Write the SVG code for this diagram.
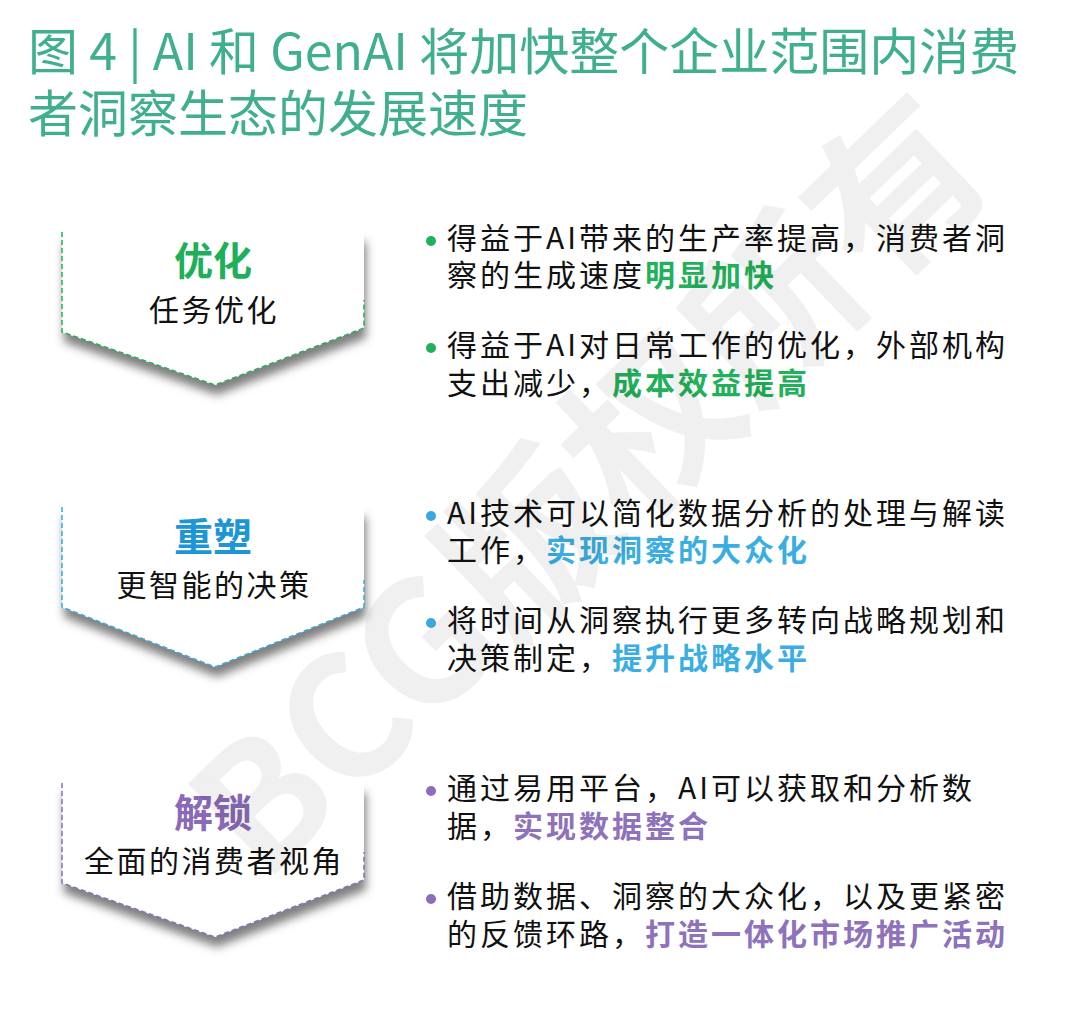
<svg xmlns="http://www.w3.org/2000/svg" width="1080" height="1019" viewBox="0 0 1080 1019">
<style>
  .title { font-family: "Noto Sans CJK SC", "Noto Sans", sans-serif; font-size: 50px; fill: #40AF8E; }
  .head { font-family: "Noto Sans CJK SC", sans-serif; font-size: 39px; font-weight: bold; text-anchor: middle; }
  .sub { font-family: "Noto Sans CJK SC", sans-serif; font-size: 30px; fill: #111; text-anchor: middle; letter-spacing: 2.5px; }
  .body { font-family: "Noto Sans CJK SC", sans-serif; font-size: 30px; fill: #111; letter-spacing: 3px; }
  .b { font-weight: bold; }
  .chev { fill: #fff; filter: url(#sh); }
  .edge { fill: none; stroke-width: 1.5; stroke-dasharray: 5 3; }
  .wm { font-family: "Noto Sans CJK SC", sans-serif; font-size: 170px; font-weight: bold; fill: #000; fill-opacity: 0.06; text-anchor: middle; }
</style>
<defs>
  <filter id="sh" x="-20%" y="-20%" width="140%" height="150%">
    <feDropShadow dx="2" dy="10" stdDeviation="5" flood-color="#000" flood-opacity="0.5"/>
  </filter>
</defs>
<rect width="1080" height="1019" fill="#fff"/>

<g id="title">
  <text class="title" x="28" y="70">图 4 | AI 和 GenAI 将加快整个企业范围内消费</text>
  <text class="title" x="28" y="132">者洞察生态的发展速度</text>
</g>

<g id="node-optimize">
  <polygon class="chev" points="62,232 364,232 364,328 215,385 62,332"/>
  <path class="edge" stroke="#22B05A" d="M62,232 V332 L215,385 L364,328 V300"/>
  <text class="head" x="213" y="275" fill="#1DAF5A">优化</text>
  <text class="sub" x="214" y="321">任务优化</text>
</g>

<g id="node-reshape">
  <polygon class="chev" points="62,507 364,507 364,607 215,667 62,607"/>
  <path class="edge" stroke="#3AA8E0" d="M62,507 V607 L215,667 L364,607 V580"/>
  <text class="head" x="213" y="551" fill="#1C96D6">重塑</text>
  <text class="sub" x="214" y="596">更智能的决策</text>
</g>

<g id="node-unlock">
  <polygon class="chev" points="62,783 364,783 364,880 215,937 62,883"/>
  <path class="edge" stroke="#8C6DBA" d="M62,783 V883 L215,937 L364,880 V852"/>
  <text class="head" x="213" y="827" fill="#8A6AB6">解锁</text>
  <text class="sub" x="214" y="872">全面的消费者视角</text>
</g>

<g id="text-optimize">
  <circle cx="431" cy="241" r="5" fill="#22B05A"/>
  <text class="body" x="447" y="249">得益于AI带来的生产率提高，消费者洞</text>
  <text class="body" x="447" y="286">察的生成速度<tspan class="b" fill="#22B05A">明显加快</tspan></text>
  <circle cx="431" cy="348" r="5" fill="#22B05A"/>
  <text class="body" x="447" y="356">得益于AI对日常工作的优化，外部机构</text>
  <text class="body" x="447" y="394">支出减少，<tspan class="b" fill="#22B05A">成本效益提高</tspan></text>
</g>

<g id="text-reshape">
  <circle cx="431" cy="516" r="5" fill="#3AA8E0"/>
  <text class="body" x="447" y="524">AI技术可以简化数据分析的处理与解读</text>
  <text class="body" x="447" y="561">工作，<tspan class="b" fill="#3AAEE2">实现洞察的大众化</tspan></text>
  <circle cx="431" cy="623" r="5" fill="#3AA8E0"/>
  <text class="body" x="447" y="631">将时间从洞察执行更多转向战略规划和</text>
  <text class="body" x="447" y="669">决策制定，<tspan class="b" fill="#3AAEE2">提升战略水平</tspan></text>
</g>

<g id="text-unlock">
  <circle cx="431" cy="791" r="5" fill="#8C6DBA"/>
  <text class="body" x="447" y="799">通过易用平台，AI可以获取和分析数</text>
  <text class="body" x="447" y="837">据，<tspan class="b" fill="#8E72BC">实现数据整合</tspan></text>
  <circle cx="431" cy="899" r="5" fill="#8C6DBA"/>
  <text class="body" x="447" y="907">借助数据、洞察的大众化，以及更紧密</text>
  <text class="body" x="447" y="945">的反馈环路，<tspan class="b" fill="#8E72BC">打造一体化市场推广活动</tspan></text>
</g>

<g id="connectors"></g>

<g id="watermark">
  <text class="wm" x="590" y="547" transform="rotate(-44 590 487)">BCG版权所有</text>
</g>
</svg>
